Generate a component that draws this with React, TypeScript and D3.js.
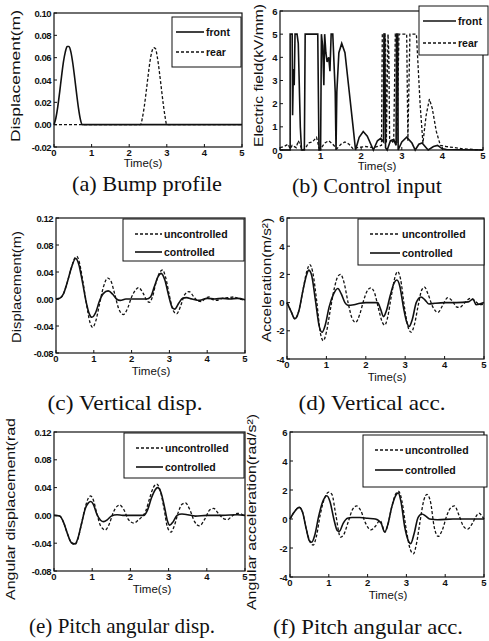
import React from "react";
import * as d3 from "d3";

type Pt = [number, number];

const TIME_TICKS = [0, 1, 2, 3, 4, 5];

// (a) bump profile, displacement in m
const BUMP_FRONT: Pt[] = [
  [0, 0], [0.05, 0.006], [0.1, 0.016], [0.15, 0.029], [0.2, 0.043], [0.25, 0.056],
  [0.3, 0.065], [0.35, 0.07], [0.4, 0.07], [0.45, 0.065], [0.5, 0.055], [0.55, 0.042],
  [0.6, 0.028], [0.65, 0.015], [0.7, 0.005], [0.75, 0], [5, 0],
];
const BUMP_REAR: Pt[] = [
  [0, 0], [2.3, 0], [2.35, 0.006], [2.4, 0.016], [2.45, 0.029], [2.5, 0.043], [2.55, 0.056],
  [2.6, 0.065], [2.65, 0.069], [2.7, 0.068], [2.75, 0.06], [2.8, 0.048], [2.85, 0.034],
  [2.9, 0.02], [2.95, 0.008], [3.0, 0], [5, 0],
];
const BUMP_TICKS = [-0.02, 0, 0.02, 0.04, 0.06, 0.08, 0.1];

// (b) control input, electric field in kV/mm
const FIELD_FRONT: Pt[] = [
  [0, 0], [0.25, 0], [0.25, 5], [0.3, 5], [0.31, 1.5], [0.33, 3.5], [0.35, 2.8], [0.37, 5],
  [0.42, 5], [0.45, 4.6], [0.5, 1], [0.53, 0], [0.6, 0], [0.62, 5], [0.93, 5], [0.96, 0],
  [1.0, 0], [1.02, 5], [1.05, 4.5], [1.08, 2.8], [1.1, 5], [1.13, 4.2], [1.16, 3.8],
  [1.2, 4.0], [1.23, 3.4], [1.26, 5], [1.3, 5], [1.36, 2.5], [1.38, 0], [1.4, 2.5],
  [1.45, 4.2], [1.52, 4.6], [1.6, 4.2], [1.7, 2.6], [1.8, 1.0], [1.86, 0], [1.95, 0.55],
  [2.05, 0.8], [2.15, 0.6], [2.3, 0], [2.4, 0.4], [2.48, 0.5], [2.55, 0.35], [2.56, 5],
  [2.58, 5], [2.6, 0.1], [2.64, 0], [2.72, 0.4], [2.8, 0.45], [2.86, 0.2], [2.87, 5],
  [2.9, 5], [2.91, 0], [3.0, 0.35], [3.12, 0.55], [3.25, 0.3], [3.33, 0], [3.42, 0.25],
  [3.5, 0.3], [3.6, 0.1], [3.65, 0], [3.78, 0.15], [3.88, 0.2], [4.0, 0.05], [4.1, 0.02],
  [5, 0],
];
const FIELD_REAR: Pt[] = [
  [0, 0.1], [0.1, 0.15], [0.2, 0.25], [0.25, 0.05], [0.3, 0.2], [0.4, 0.1], [0.45, 0.4],
  [0.5, 0.2], [0.55, 0], [0.62, 0.05], [0.7, 0.3], [0.8, 0.35], [0.9, 0.55], [0.96, 0.1],
  [1.0, 0.05], [1.1, 0.3], [1.2, 0.4], [1.3, 0.25], [1.4, 0.05], [1.5, 0.25], [1.6, 0.35],
  [1.7, 0.25], [1.8, 0.05], [1.9, 0.1], [2.1, 0.15], [2.3, 0.1], [2.5, 0.2], [2.52, 5],
  [2.58, 5], [2.6, 4.7], [2.62, 0.3], [2.66, 5], [2.68, 4.2], [2.7, 0.5], [2.8, 0.3],
  [2.84, 5], [2.87, 5], [2.88, 0.3], [2.93, 5], [3.12, 5], [3.15, 0.4], [3.2, 5],
  [3.36, 5], [3.45, 2], [3.52, 0.3], [3.6, 1.5], [3.68, 2.2], [3.75, 1.8], [3.85, 0.8],
  [3.95, 0.2], [4.1, 0.15], [4.3, 0.1], [4.5, 0.05], [5, 0],
];
const FIELD_TICKS = [0, 1, 2, 3, 4, 5, 6];

// (c) vertical displacement in m
const DISP_UNC: Pt[] = [
  [0, 0], [0.1, 0.001], [0.2, 0.008], [0.3, 0.025], [0.4, 0.045], [0.5, 0.061], [0.55, 0.063],
  [0.6, 0.058], [0.7, 0.03], [0.8, -0.005], [0.9, -0.035], [0.97, -0.042], [1.05, -0.033],
  [1.15, -0.008], [1.25, 0.017], [1.37, 0.031], [1.45, 0.027], [1.55, 0.008], [1.65, -0.013],
  [1.78, -0.023], [1.9, -0.013], [2.0, 0.003], [2.1, 0.013], [2.18, 0.017], [2.3, 0.009],
  [2.4, -0.002], [2.47, -0.005], [2.55, 0.003], [2.65, 0.025], [2.75, 0.04], [2.82, 0.043],
  [2.9, 0.032], [3.0, 0.005], [3.1, -0.017], [3.19, -0.022], [3.3, -0.01], [3.4, 0.006],
  [3.52, 0.011], [3.65, 0.003], [3.75, -0.003], [3.85, -0.004], [3.95, 0.001], [4.05, 0.003],
  [4.15, -0.001], [4.25, -0.002], [4.4, 0.001], [4.55, 0.002], [4.7, 0.003], [4.85, 0],
  [5, -0.002],
];
const DISP_CTL: Pt[] = [
  [0, 0], [0.1, 0.001], [0.2, 0.008], [0.3, 0.025], [0.4, 0.045], [0.52, 0.06], [0.6, 0.052],
  [0.7, 0.025], [0.8, -0.005], [0.88, -0.022], [0.95, -0.027], [1.05, -0.02], [1.15, -0.003],
  [1.25, 0.008], [1.38, 0.012], [1.5, 0.007], [1.6, 0], [1.7, -0.002], [1.85, 0], [2.0, 0],
  [2.2, 0], [2.4, 0], [2.5, 0.003], [2.6, 0.018], [2.7, 0.033], [2.78, 0.038], [2.88, 0.028],
  [2.98, 0.005], [3.07, -0.012], [3.14, -0.015], [3.25, -0.006], [3.35, 0.001], [3.45, 0.002],
  [3.6, 0], [3.8, -0.002], [4.0, 0.001], [4.2, 0], [4.4, 0.001], [4.6, 0], [4.8, 0.001],
  [5, -0.001],
];
const DISP_TICKS = [-0.08, -0.04, 0, 0.04, 0.08, 0.12];

// (d) vertical acceleration in m/s2
const ACC_UNC: Pt[] = [
  [0, 0], [0.1, -0.6], [0.2, -1.15], [0.25, -1.0], [0.3, -0.6], [0.4, 0.8], [0.5, 2.2],
  [0.58, 2.7], [0.65, 2.2], [0.75, 0.2], [0.85, -2.2], [0.92, -2.7], [1.0, -2.1], [1.1, -0.5],
  [1.2, 1.0], [1.3, 1.9], [1.36, 2.0], [1.45, 1.4], [1.55, 0], [1.65, -1.1], [1.74, -1.4],
  [1.85, -0.8], [1.95, 0.2], [2.05, 0.9], [2.13, 1.05], [2.22, 0.7], [2.32, -0.4],
  [2.42, -1.4], [2.48, -1.6], [2.55, -1.1], [2.65, 0.5], [2.75, 1.9], [2.81, 2.2],
  [2.88, 1.7], [2.98, -0.3], [3.08, -1.8], [3.15, -2.1], [3.23, -1.6], [3.33, -0.2],
  [3.42, 0.9], [3.49, 1.1], [3.58, 0.6], [3.7, -0.3], [3.83, -0.7], [3.95, -0.2],
  [4.08, 0.35], [4.2, 0.1], [4.3, -0.3], [4.38, -0.35], [4.5, -0.05], [4.66, 0.3],
  [4.78, 0.1], [4.9, -0.15], [5, -0.1],
];
const ACC_CTL: Pt[] = [
  [0, 0], [0.1, -0.6], [0.2, -1.15], [0.25, -1.0], [0.3, -0.6], [0.4, 0.8], [0.5, 2.0],
  [0.55, 2.3], [0.62, 2.0], [0.72, 0.2], [0.82, -1.7], [0.89, -2.1], [0.97, -1.6],
  [1.07, -0.3], [1.18, 0.6], [1.29, 1.0], [1.38, 0.6], [1.47, 0], [1.55, -0.2], [1.7, -0.15],
  [1.85, -0.05], [2.0, 0], [2.2, 0], [2.3, 0], [2.38, -0.5], [2.45, -1.0], [2.52, -0.6],
  [2.62, 0.5], [2.72, 1.4], [2.79, 1.6], [2.86, 1.2], [2.96, -0.4], [3.04, -1.4], [3.1, -1.7],
  [3.18, -1.2], [3.28, 0], [3.4, 0.4], [3.5, 0.2], [3.6, -0.1], [3.75, -0.05], [4.0, 0],
  [4.3, 0], [4.6, 0.05], [4.72, 0.25], [4.8, -0.15], [5, 0],
];
const ACC_TICKS = [-4, -2, 0, 2, 4, 6];

// (e) pitch angular displacement in rad
const PITCH_UNC: Pt[] = [
  [0, 0], [0.15, -0.001], [0.25, -0.01], [0.35, -0.026], [0.45, -0.039], [0.55, -0.042],
  [0.62, -0.035], [0.72, -0.012], [0.82, 0.012], [0.9, 0.025], [0.96, 0.028], [1.03, 0.022],
  [1.12, 0.003], [1.22, -0.015], [1.34, -0.021], [1.45, -0.012], [1.55, 0.004], [1.65, 0.013],
  [1.72, 0.015], [1.82, 0.009], [1.95, -0.006], [2.09, -0.011], [2.2, -0.007], [2.3, -0.002],
  [2.4, 0.006], [2.5, 0.024], [2.6, 0.04], [2.69, 0.045], [2.78, 0.036], [2.88, 0.01],
  [2.97, -0.017], [3.06, -0.024], [3.15, -0.015], [3.25, 0.004], [3.35, 0.016], [3.44, 0.018],
  [3.55, 0.009], [3.68, -0.009], [3.81, -0.015], [3.95, -0.005], [4.08, 0.008], [4.18, 0.01],
  [4.3, 0.003], [4.42, -0.004], [4.54, -0.006], [4.66, -0.001], [4.8, 0.003], [4.9, 0.002],
  [5, -0.001],
];
const PITCH_CTL: Pt[] = [
  [0, 0], [0.15, -0.001], [0.25, -0.01], [0.35, -0.026], [0.45, -0.039], [0.55, -0.041],
  [0.62, -0.034], [0.72, -0.012], [0.82, 0.01], [0.9, 0.018], [0.96, 0.02], [1.03, 0.016],
  [1.12, 0.002], [1.22, -0.007], [1.3, -0.009], [1.4, -0.006], [1.5, -0.001], [1.65, 0.001],
  [1.8, 0], [2.0, 0], [2.2, 0], [2.35, 0], [2.45, 0.008], [2.55, 0.025], [2.65, 0.037],
  [2.71, 0.04], [2.8, 0.033], [2.9, 0.01], [2.97, -0.008], [3.03, -0.014], [3.12, -0.009],
  [3.22, 0], [3.35, 0.002], [3.5, 0.001], [3.7, -0.001], [4.0, 0], [4.4, 0], [4.8, 0.001],
  [5, 0],
];

// (f) pitch angular acceleration in rad/s2
const PACC_UNC: Pt[] = [
  [0, 0], [0.1, 0.45], [0.24, 0.8], [0.32, 0.5], [0.42, -0.7], [0.52, -1.6], [0.6, -1.8],
  [0.68, -1.2], [0.78, 0.3], [0.9, 1.5], [1.0, 1.85], [1.08, 1.7], [1.18, 0.3], [1.3, -1.25],
  [1.38, -1.1], [1.5, -0.2], [1.62, 0.7], [1.72, 0.9], [1.82, 0.6], [1.95, -0.3],
  [2.08, -0.75], [2.2, -0.5], [2.32, -0.1], [2.45, -0.9], [2.52, -0.4], [2.62, 0.8],
  [2.72, 1.7], [2.8, 1.9], [2.88, 1.3], [3.0, -0.8], [3.1, -2.1], [3.18, -2.4], [3.26, -1.7],
  [3.35, -0.2], [3.45, 1.3], [3.53, 1.7], [3.62, 1.2], [3.72, -0.6], [3.82, -1.2],
  [3.92, -0.8], [4.05, 0.3], [4.15, 0.8], [4.24, 0.9], [4.35, 0.3], [4.47, -0.5],
  [4.58, -0.7], [4.7, -0.3], [4.8, 0.2], [4.87, 0.4], [4.95, 0.2], [5, 0],
];
const PACC_CTL: Pt[] = [
  [0, 0], [0.1, 0.45], [0.24, 0.8], [0.32, 0.5], [0.42, -0.7], [0.5, -1.5], [0.56, -1.6],
  [0.64, -1.1], [0.74, 0.2], [0.86, 1.3], [0.95, 1.6], [1.03, 1.2], [1.13, 0], [1.22, -0.8],
  [1.27, -0.85], [1.37, -0.3], [1.48, 0.05], [1.6, 0.1], [1.8, 0.1], [2.0, 0.05], [2.2, 0],
  [2.35, -0.3], [2.44, -0.9], [2.52, -0.4], [2.62, 0.8], [2.72, 1.6], [2.79, 1.8],
  [2.86, 1.2], [2.96, -0.6], [3.05, -1.5], [3.11, -1.7], [3.2, -1.0], [3.3, 0.1], [3.4, 0.35],
  [3.5, 0.2], [3.6, 0], [3.8, -0.05], [4.2, 0], [4.6, 0], [5, 0],
];

const SANS = "'Liberation Sans', Arial, sans-serif";
const SERIF = "'Liberation Serif', 'Times New Roman', serif";
const INK = "#111";

type Series = { data: Pt[]; dashed: boolean; smooth: boolean };
type LegendItem = { label: string; dashed: boolean };

type PanelProps = {
  l: number; r: number; t: number; b: number;
  yDomain: [number, number];
  yTicks: number[];
  yFmt: string;
  series: Series[];
  legend: { x: number; y: number; w: number; h: number; rows: number[]; sx0: number; sx1: number; items: LegendItem[] };
  yTitle: { text: string; x: number; y0: number; y1: number };
  xTitle: { x: number; y: number };
  caption: { text: string; x: number; y: number; len: number };
};

function Panel(p: PanelProps) {
  const x = d3.scaleLinear().domain([0, 5]).range([p.l, p.r]);
  const y = d3.scaleLinear().domain(p.yDomain).range([p.b, p.t]);
  const fmt = (v: number) => d3.format(p.yFmt)(v).replace("\u2212", "-");
  return (
    <g>
      {p.series.map((s, i) => {
        const line = d3
          .line<Pt>()
          .x((d) => x(d[0]))
          .y((d) => y(d[1]))
          .curve(s.smooth ? d3.curveMonotoneX : d3.curveLinear);
        return (
          <path
            key={i}
            d={line(s.data) || ""}
            fill="none"
            stroke={INK}
            strokeWidth={s.dashed ? 1.3 : 1.6}
            strokeDasharray={s.dashed ? "3,2" : undefined}
          />
        );
      })}
      <rect x={p.l} y={p.t} width={p.r - p.l} height={p.b - p.t} fill="none" stroke={INK} strokeWidth={1.2} />
      {TIME_TICKS.map((v) => (
        <g key={"x" + v}>
          <line x1={x(v)} x2={x(v)} y1={p.b} y2={p.b - 3} stroke={INK} />
          <text x={x(v)} y={p.b + 8.5} textAnchor="middle" fontFamily={SANS} fontSize={9.5} fontWeight="bold" fill={INK}>
            {v}
          </text>
        </g>
      ))}
      {p.yTicks.map((v) => (
        <g key={"y" + v}>
          <line x1={p.l} x2={p.l + 3} y1={y(v)} y2={y(v)} stroke={INK} />
          <text x={p.l - 3} y={y(v) + 3.5} textAnchor="end" fontFamily={SANS} fontSize={9.5} fontWeight="bold" letterSpacing={-0.5} fill={INK}>
            {fmt(v)}
          </text>
        </g>
      ))}
      <text x={p.xTitle.x} y={p.xTitle.y} textAnchor="middle" fontFamily={SANS} fontSize={11.5} fill={INK}>
        Time(s)
      </text>
      <text
        transform={`translate(${p.yTitle.x},${(p.yTitle.y0 + p.yTitle.y1) / 2}) rotate(-90)`}
        textAnchor="middle"
        fontFamily={SANS}
        fontSize={13}
        textLength={p.yTitle.y0 - p.yTitle.y1}
        lengthAdjust="spacingAndGlyphs"
        fill={INK}
      >
        {p.yTitle.text}
      </text>
      <rect x={p.legend.x} y={p.legend.y} width={p.legend.w} height={p.legend.h} fill="#fff" stroke={INK} strokeWidth={1} />
      {p.legend.items.map((it, i) => (
        <g key={it.label}>
          <line
            x1={p.legend.sx0}
            x2={p.legend.sx1}
            y1={p.legend.rows[i]}
            y2={p.legend.rows[i]}
            stroke={INK}
            strokeWidth={it.dashed ? 1.3 : 1.6}
            strokeDasharray={it.dashed ? "3,2" : undefined}
          />
          <text x={p.legend.sx1 + 2} y={p.legend.rows[i] + 3.5} fontFamily={SANS} fontSize={10.5} fontWeight="bold" fill={INK}>
            {it.label}
          </text>
        </g>
      ))}
      <text
        x={p.caption.x}
        y={p.caption.y}
        textAnchor="middle"
        fontFamily={SERIF}
        fontSize={21}
        textLength={p.caption.len}
        lengthAdjust="spacingAndGlyphs"
        fill={INK}
      >
        {p.caption.text}
      </text>
    </g>
  );
}

const FRONT_REAR: LegendItem[] = [
  { label: "front", dashed: false },
  { label: "rear", dashed: true },
];
const UNC_CTL: LegendItem[] = [
  { label: "uncontrolled", dashed: true },
  { label: "controlled", dashed: false },
];

const App = () => {
  return (
    <div style={{ position: "absolute", left: 0, top: 0 }}>
      <svg width={489} height={641} style={{ display: "block", background: "#fff" }}>
        <Panel
          l={54} r={242} t={13} b={147}
          yDomain={[-0.02, 0.1]} yTicks={BUMP_TICKS} yFmt=".2f"
          series={[
            { data: BUMP_FRONT, dashed: false, smooth: true },
            { data: BUMP_REAR, dashed: true, smooth: true },
          ]}
          legend={{ x: 172, y: 17, w: 69, h: 50, rows: [32, 52], sx0: 176, sx1: 204, items: FRONT_REAR }}
          yTitle={{ text: "Displacement(m)", x: 20, y0: 142, y1: 10 }}
          xTitle={{ x: 143, y: 167 }}
          caption={{ text: "(a) Bump profile", x: 147, y: 191, len: 150 }}
        />
        <Panel
          l={280} r={483} t={11} b={150}
          yDomain={[0, 6]} yTicks={FIELD_TICKS} yFmt="d"
          series={[
            { data: FIELD_FRONT, dashed: false, smooth: false },
            { data: FIELD_REAR, dashed: true, smooth: false },
          ]}
          legend={{ x: 419, y: 6, w: 69, h: 49, rows: [21, 43], sx0: 423, sx1: 456, items: FRONT_REAR }}
          yTitle={{ text: "Electric field(kV/mm)", x: 263, y0: 147, y1: 4 }}
          xTitle={{ x: 377, y: 170 }}
          caption={{ text: "(b) Control input", x: 367, y: 193, len: 150 }}
        />
        <Panel
          l={56} r={245} t={218} b={353}
          yDomain={[-0.08, 0.12]} yTicks={DISP_TICKS} yFmt=".2f"
          series={[
            { data: DISP_UNC, dashed: true, smooth: true },
            { data: DISP_CTL, dashed: false, smooth: true },
          ]}
          legend={{ x: 123, y: 219, w: 121, h: 42, rows: [234, 252], sx0: 135, sx1: 162, items: UNC_CTL }}
          yTitle={{ text: "Displacement(m)", x: 21, y0: 343, y1: 231 }}
          xTitle={{ x: 151, y: 375 }}
          caption={{ text: "(c) Vertical disp.", x: 125, y: 410, len: 155 }}
        />
        <Panel
          l={287} r={484} t={218} b={359}
          yDomain={[-4, 6]} yTicks={ACC_TICKS} yFmt="d"
          series={[
            { data: ACC_UNC, dashed: true, smooth: true },
            { data: ACC_CTL, dashed: false, smooth: true },
          ]}
          legend={{ x: 358, y: 219, w: 126, h: 46, rows: [234, 253], sx0: 370, sx1: 400, items: UNC_CTL }}
          yTitle={{ text: "Acceleration(m/s\u00b2)", x: 271, y0: 342, y1: 218 }}
          xTitle={{ x: 387, y: 381 }}
          caption={{ text: "(d) Vertical acc.", x: 372, y: 410, len: 147 }}
        />
        <Panel
          l={54} r={245} t={432} b={571}
          yDomain={[-0.08, 0.12]} yTicks={DISP_TICKS} yFmt=".2f"
          series={[
            { data: PITCH_UNC, dashed: true, smooth: true },
            { data: PITCH_CTL, dashed: false, smooth: true },
          ]}
          legend={{ x: 124, y: 433, w: 120, h: 45, rows: [448, 467], sx0: 136, sx1: 163, items: UNC_CTL }}
          yTitle={{ text: "Angular displacement(rad", x: 15, y0: 600, y1: 418 }}
          xTitle={{ x: 152, y: 593 }}
          caption={{ text: "(e) Pitch angular disp.", x: 122, y: 633, len: 186 }}
        />
        <Panel
          l={290} r={484} t={432} b={577}
          yDomain={[-4, 6]} yTicks={ACC_TICKS} yFmt="d"
          series={[
            { data: PACC_UNC, dashed: true, smooth: true },
            { data: PACC_CTL, dashed: false, smooth: true },
          ]}
          legend={{ x: 363, y: 435, w: 124, h: 52, rows: [450, 470], sx0: 375, sx1: 403, items: UNC_CTL }}
          yTitle={{ text: "Angular acceleration(rad/s\u00b2)", x: 256, y0: 610, y1: 414 }}
          xTitle={{ x: 388, y: 599 }}
          caption={{ text: "(f) Pitch angular acc.", x: 368, y: 634, len: 190 }}
        />
      </svg>
    </div>
  );
};

export default App;
